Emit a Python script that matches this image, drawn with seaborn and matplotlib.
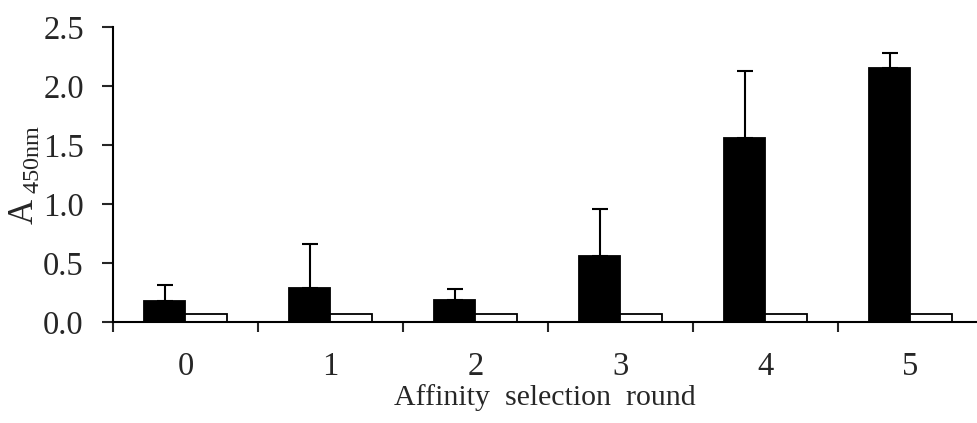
import matplotlib
matplotlib.use("Agg")
import matplotlib.pyplot as plt
import seaborn as sns
import pandas as pd
import numpy as np
from matplotlib.ticker import FixedLocator

rounds = ["0", "1", "2", "3", "4", "5"]
target_vals = [0.18, 0.29, 0.19, 0.56, 1.56, 2.15]
target_err = [0.13, 0.37, 0.09, 0.40, 0.57, 0.13]
control_vals = [0.07, 0.07, 0.07, 0.07, 0.07, 0.07]
series = ["Target", "Control"]

sns.set_theme(style="ticks")
plt.rcParams["font.family"] = ["Liberation Serif", "DejaVu Serif"]
plt.rcParams["mathtext.fontset"] = "custom"
plt.rcParams["mathtext.rm"] = "Liberation Serif"

df = pd.DataFrame({
    "round": rounds * 2,
    "value": target_vals + control_vals,
    "series": [series[0]] * len(rounds) + [series[1]] * len(rounds),
})

fig = plt.figure(figsize=(9.77, 4.23), dpi=100)
ax = fig.add_axes([113 / 977, 1 - 322 / 423, 1 - 113 / 977, (322 - 27) / 423])

sns.barplot(data=df, x="round", y="value", hue="series", order=rounds,
            hue_order=series, palette=["black", "white"], edgecolor="black",
            linewidth=1.3, width=0.57, errorbar=None, legend=False, ax=ax)

# error bars on target bars (upper only)
tpatches = ax.patches[:len(rounds)]
xs = [p.get_x() + p.get_width() / 2 for p in tpatches]
ax.errorbar(xs, target_vals, yerr=[np.zeros(len(rounds)), target_err],
            fmt="none", ecolor="black", elinewidth=1.5, capsize=5.5, capthick=1.5)

ax.set_ylim(0, 2.5)
ax.set_xlim(-0.5, 5.46)
ax.set_yticks(np.arange(0, 2.51, 0.5))
ax.set_yticklabels([f"{v:.1f}" for v in np.arange(0, 2.51, 0.5)])
ax.tick_params(axis="y", labelsize=23.5, length=8, width=1.5, pad=13, direction="out")
ax.tick_params(axis="x", which="major", labelsize=23.5, length=0, pad=21)
ax.xaxis.set_minor_locator(FixedLocator(np.arange(-0.5, 6, 1.0)))
ax.tick_params(axis="x", which="minor", length=7, width=1.5, direction="out")

for s in ["top", "right"]:
    ax.spines[s].set_visible(False)
for s in ["left", "bottom"]:
    ax.spines[s].set_linewidth(1.5)
    ax.spines[s].set_color("black")

ax.set_xlabel("Affinity  selection  round", fontsize=21.5, labelpad=2)
ax.set_ylabel(r"A$\,_{\mathregular{450nm}}$", fontsize=25)
ax.yaxis.label.set_va("center")
ax.yaxis.set_label_coords(-(113 - 24) / 864, 0.5)

fig.savefig("out.png", dpi=100)
